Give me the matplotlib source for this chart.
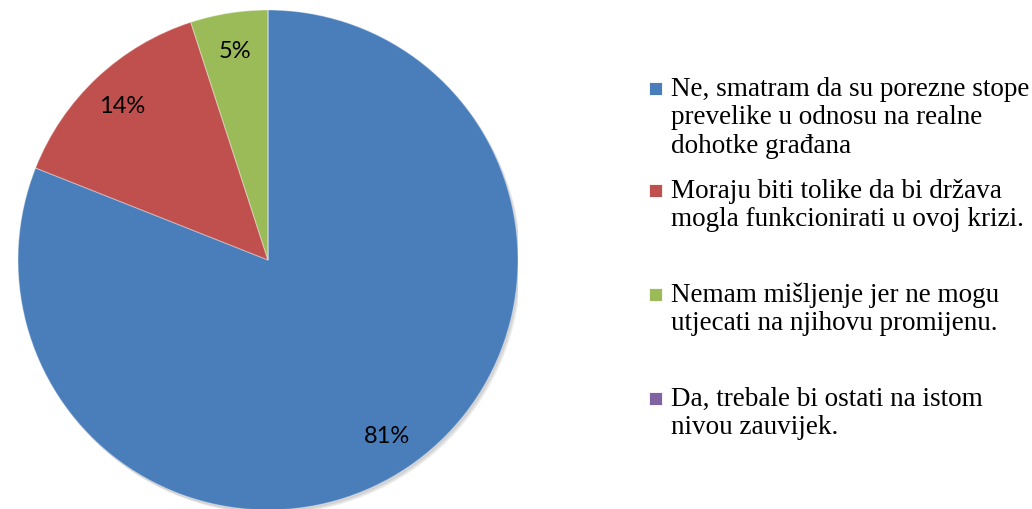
import matplotlib
matplotlib.use("Agg")
import matplotlib.pyplot as plt
from matplotlib.patches import Rectangle, Circle

# data
categories = [
    "Ne, smatram da su porezne stope\nprevelike u odnosu na realne\ndohotke građana",
    "Moraju biti tolike da bi država\nmogla funkcionirati u ovoj krizi.",
    "Nemam mišljenje jer ne mogu\nutjecati na njihovu promijenu.",
    "Da, trebale bi ostati na istom\nnivou zauvijek.",
]
values = [81, 14, 5, 0]
colors = ["#4a7ebb", "#c0504d", "#9bbb59", "#8064a2"]

W, H = 1032, 510
fig = plt.figure(figsize=(W / 100, H / 100), dpi=100)

# pie axes, placed in pixels
cx, cy, R = 268, 261, 250
ax = fig.add_axes([(cx - R) / W, (H - cy - R) / H, 2 * R / W, 2 * R / H])
ax.axis("off")

# soft shadow behind the pie
for i, a in enumerate([0.06, 0.06, 0.07]):
    ax.add_patch(Circle((0.005 + i * 0.004, -0.008 - i * 0.004), 1.0,
                        color="black", alpha=a, lw=0, zorder=0))


def pct(p):
    return "" if p < 0.5 else f"{p:.0f}%"


wedges, texts, autotexts = ax.pie(
    values, colors=colors, startangle=90, counterclock=False, radius=1.0,
    autopct=pct, pctdistance=0.85,
    wedgeprops=dict(linewidth=0.8, edgecolor=(1, 1, 1, 0.35)),
    textprops=dict(fontsize=17, family="Lato", color="black"),
)
for w in wedges:
    w.set_zorder(2)
for t in autotexts:
    t.set_zorder(3)
ax.set_xlim(-1, 1)
ax.set_ylim(-1, 1)
ax.set_aspect("equal")

# legend drawn by hand to keep the original uneven spacing
entry_y = [89, 191, 295, 399]
line_h = 29
for lab, col, y in zip(categories, colors, entry_y):
    fig.patches.append(Rectangle((649 / W, (H - y - 7) / H), 13 / W, 13 / H,
                                 transform=fig.transFigure, facecolor=col,
                                 edgecolor="white", lw=0.6))
    for k, line in enumerate(lab.split("\n")):
        fig.text(671 / W, (H - y - k * line_h) / H, line, ha="left", va="center",
                 fontsize=19.5, family="Liberation Serif", color="black")

fig.savefig("out.png", dpi=100)
